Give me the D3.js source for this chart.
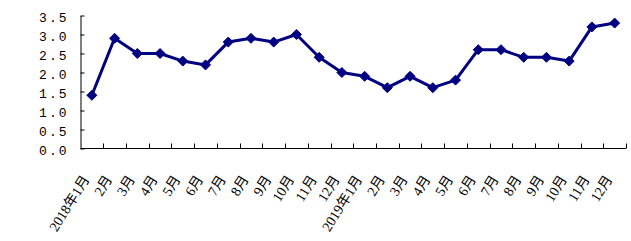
<!DOCTYPE html>
<html>
<head>
<meta charset="utf-8">
<script src="https://cdn.jsdelivr.net/npm/d3@7"></script>
<style>
  body { margin: 0; background: #fff; }
  svg { display: block; }
</style>
</head>
<body>
<div id="chart"></div>
<script>
// monthly values, Jan 2018 - Dec 2019
const months = ['2018年1月', '2月', '3月', '4月', '5月', '6月', '7月', '8月', '9月', '10月', '11月', '12月',
  '2019年1月', '2月', '3月', '4月', '5月', '6月', '7月', '8月', '9月', '10月', '11月', '12月'];
const values = [1.4, 2.9, 2.5, 2.5, 2.3, 2.2, 2.8, 2.9, 2.8, 3.0, 2.4, 2.0,
  1.9, 1.6, 1.9, 1.6, 1.8, 2.6, 2.6, 2.4, 2.4, 2.3, 3.2, 3.3];
const yTicks = [0, 0.5, 1.0, 1.5, 2.0, 2.5, 3.0, 3.5];

const width = 631, height = 241;
const plotLeft = 80.5, plotRight = 626, plotTop = 15.5, plotBottom = 148.5;
const lineColor = '#000080';

const svg = d3.select('#chart').append('svg')
  .attr('width', width)
  .attr('height', height);

const keys = months.map((m, i) => i);
const x = d3.scaleBand().domain(keys).range([plotLeft, plotRight]).paddingInner(0).paddingOuter(0);
const y = d3.scaleLinear().domain([0, 3.5]).range([plotBottom, plotTop]);

// y axis
const yAxis = svg.append('g')
  .attr('transform', `translate(${plotLeft},0)`)
  .call(d3.axisLeft(y).tickValues(yTicks).tickFormat(d3.format('.1f'))
    .tickSizeInner(-4).tickSizeOuter(0).tickPadding(12));
yAxis.select('.domain').attr('stroke', '#000');
yAxis.selectAll('.tick line').attr('stroke', '#000');
yAxis.selectAll('.tick text')
  .attr('fill', '#000')
  .attr('dy', '0.45em')
  .style('letter-spacing', '2px')
  .style('font-family', '"Liberation Mono", monospace')
  .style('font-size', '13px');

// x axis line + boundary ticks
const xg = svg.append('g');
xg.append('line')
  .attr('x1', plotLeft).attr('x2', plotRight)
  .attr('y1', plotBottom).attr('y2', plotBottom)
  .attr('stroke', '#000');
const bounds = d3.range(1, months.length + 1);
xg.selectAll('line.tk').data(bounds).enter().append('line')
  .attr('class', 'tk')
  .attr('x1', d => Math.round(plotLeft + x.step() * d) + 0.5)
  .attr('x2', d => Math.round(plotLeft + x.step() * d) + 0.5)
  .attr('y1', plotBottom).attr('y2', plotBottom - 5)
  .attr('stroke', '#000');

xg.selectAll('text').data(keys).enter().append('text')
  .attr('transform', d => `translate(${x(d) + x.bandwidth() / 2 - 6},${plotBottom + 28}) rotate(-58)`)
  .attr('text-anchor', 'end')
  .attr('dy', '0.35em')
  .attr('fill', '#000')
  .style('font-family', '"Liberation Serif", "Noto Sans CJK SC", serif')
  .style('font-size', '14px')
  .text(d => months[d]);

// line
const line = d3.line()
  .x((d, i) => x(i) + x.bandwidth() / 2)
  .y(d => y(d));

svg.append('path')
  .datum(values)
  .attr('fill', 'none')
  .attr('stroke', lineColor)
  .attr('stroke-width', 3)
  .attr('stroke-linejoin', 'round')
  .attr('d', line);

// diamond markers
const r = 5;
svg.selectAll('path.mk').data(values).enter().append('path')
  .attr('class', 'mk')
  .attr('transform', (d, i) => `translate(${x(i) + x.bandwidth() / 2},${y(d)})`)
  .attr('d', `M0,${-r}L${r},0L0,${r}L${-r},0Z`)
  .attr('fill', lineColor)
  .attr('stroke', lineColor);
</script>
</body>
</html>
